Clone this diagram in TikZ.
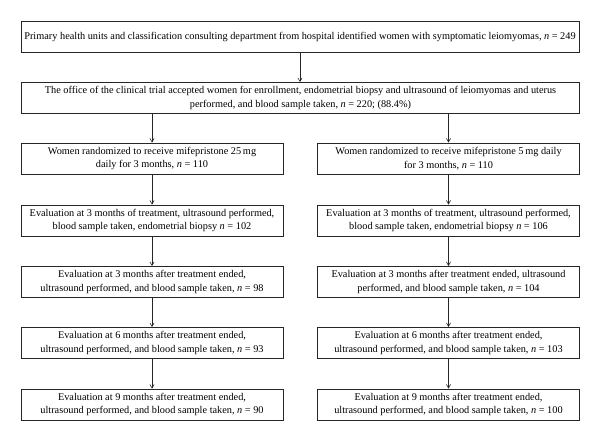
\documentclass[tikz,border=0pt]{standalone}
\usepackage{fontspec}
\setmainfont{Liberation Serif}
\usepackage{tikz}
\usetikzlibrary{positioning}
\usetikzlibrary{arrows}
\tikzset{box/.style={draw=black!85, line width=0.8pt, align=center, inner sep=0pt,
  minimum height=31, font=\fontsize{10.3}{13.5}\selectfont}}
\tikzset{wide/.style={box, minimum width=558}}
\tikzset{half/.style={box, minimum width=262}}
\tikzset{link/.style={->, >=angle 60, black!85, line width=0.6pt}}

\begin{document}
\begin{tikzpicture}[x=1pt,y=-1pt]
\useasboundingbox (0,0) rectangle (600,441);
\node[wide] (ident) at (300,36.5) {Primary health units and classification consulting department from hospital identified women with symptomatic leiomyomas, \textit{n}~=~249};
\node[wide] (office) at (300.5,98) {The office of the clinical trial accepted women for enrollment, endometrial biopsy and ultrasound of leiomyomas and uterus\\performed, and blood sample taken, \textit{n}~=~220; (88.4\%)};
% 25 mg arm
\node[half] (a1) at (152,158.5) {Women randomized to receive mifepristone 25\,mg\\daily for 3 months, \textit{n}~=~110};
\node[half] (a2) at (152,220.5) {Evaluation at 3 months of treatment, ultrasound performed,\\blood sample taken, endometrial biopsy \textit{n}~=~102};
\node[half] (a3) at (152,282) {Evaluation at 3 months after treatment ended,\\ultrasound performed, and blood sample taken, \textit{n}~=~98};
\node[half] (a4) at (152,343) {Evaluation at 6 months after treatment ended,\\ultrasound performed, and blood sample taken, \textit{n}~=~93};
\node[half] (a5) at (152,404.5) {Evaluation at 9 months after treatment ended,\\ultrasound performed, and blood sample taken, \textit{n}~=~90};
% 5 mg arm
\node[half] (b1) at (448.5,158.5) {Women randomized to receive mifepristone 5\,mg daily\\for 3 months, \textit{n}~=~110};
\node[half] (b2) at (448.5,220.5) {Evaluation at 3 months of treatment, ultrasound performed,\\blood sample taken, endometrial biopsy \textit{n}~=~106};
\node[half] (b3) at (448.5,282) {Evaluation at 3 months after treatment ended, ultrasound\\performed, and blood sample taken, \textit{n}~=~104};
\node[half] (b4) at (448.5,343) {Evaluation at 6 months after treatment ended,\\ultrasound performed, and blood sample taken, \textit{n}~=~103};
\node[half] (b5) at (448.5,404.5) {Evaluation at 9 months after treatment ended,\\ultrasound performed, and blood sample taken, \textit{n}~=~100};
\draw[link] (ident) -- (ident |- office.north);
\draw[link] (office.south -| a1) -- (a1);
\draw[link] (office.south -| b1) -- (b1);
\foreach \u/\v in {a1/a2,a2/a3,a3/a4,a4/a5,b1/b2,b2/b3,b3/b4,b4/b5} {
\draw[link] (\u) -- (\v);
}
\end{tikzpicture}
\end{document}
